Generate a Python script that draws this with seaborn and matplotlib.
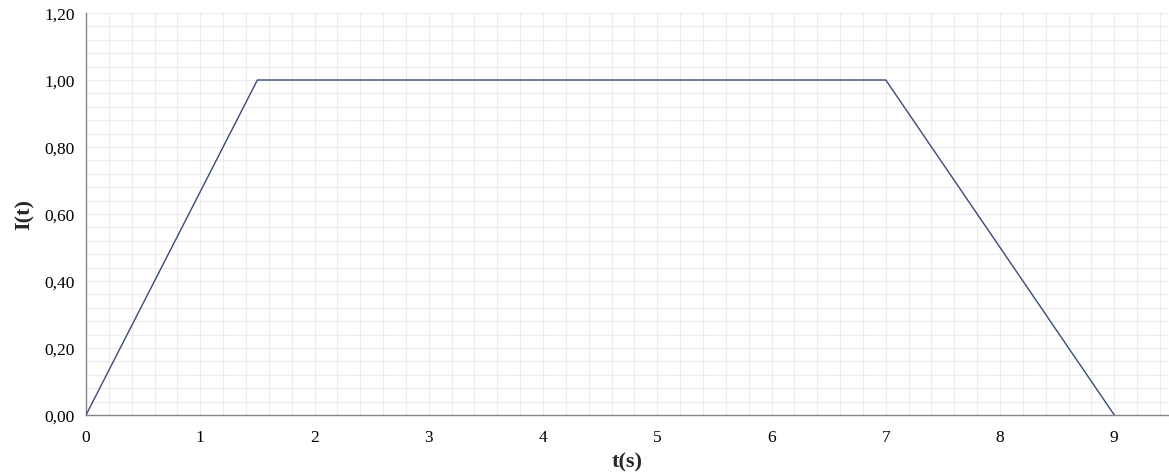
import matplotlib
matplotlib.use("Agg")
import matplotlib.pyplot as plt
import seaborn as sns
import pandas as pd
from matplotlib.ticker import MultipleLocator, FuncFormatter

t_values = [0, 1.5, 7, 9]
i_values = [0, 1.0, 1.0, 0]
x_ticks = [0, 1, 2, 3, 4, 5, 6, 7, 8, 9]
y_ticks = [0.0, 0.2, 0.4, 0.6, 0.8, 1.0, 1.2]

df = pd.DataFrame({"t": t_values, "I": i_values})

sns.set_style("white")
plt.rcParams['font.family'] = ['Liberation Serif', 'DejaVu Serif']

fig = plt.figure(figsize=(11.69, 4.77), dpi=100)
ax = fig.add_axes([86/1169, (477-416)/477, (1168-86)/1169, (416-14)/477])

sns.lineplot(data=df, x="t", y="I", ax=ax, color="#3b4a78", linewidth=1.0, zorder=3)

ax.set_xlim(0, 9.47)
ax.set_ylim(0, 1.2)
ax.set_xticks(x_ticks)
ax.set_yticks(y_ticks)
ax.xaxis.set_minor_locator(MultipleLocator(0.2))
ax.yaxis.set_minor_locator(MultipleLocator(0.04))
ax.xaxis.set_major_formatter(FuncFormatter(lambda v, p: f"{v:g}"))
ax.yaxis.set_major_formatter(FuncFormatter(lambda v, p: f"{v:.2f}".replace(".", ",")))
ax.grid(which="both", color="#ececec", linewidth=0.8, zorder=0)
ax.set_axisbelow(True)

for s in ["top", "right"]:
    ax.spines[s].set_visible(False)
for s in ["left", "bottom"]:
    ax.spines[s].set_color("#868686")
    ax.spines[s].set_linewidth(1.0)

ax.tick_params(which="major", direction="out", length=4, width=1, color="#868686",
               labelsize=12.5, labelcolor="black")
ax.tick_params(axis="x", which="major", pad=6)
ax.tick_params(axis="y", which="major", pad=4)
ax.tick_params(which="minor", length=0)

ax.set_xlabel("t(s)", fontsize=16, fontweight="bold", labelpad=5)
ax.set_ylabel("I(t)", fontsize=16, fontweight="bold", labelpad=7)

fig.savefig("out.png", dpi=100)
